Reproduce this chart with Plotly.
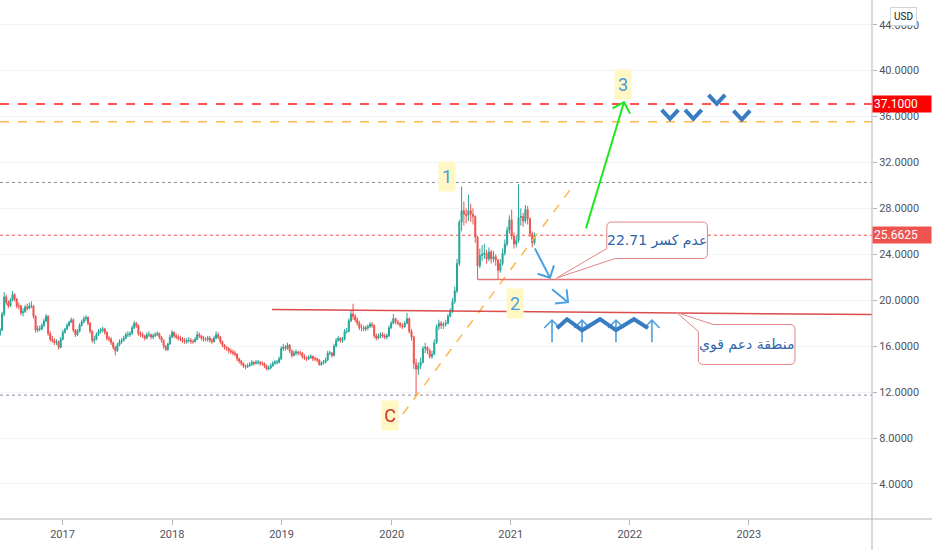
import numpy as np
import pandas as pd
import plotly.graph_objects as go

# weekly XAGUSD candles (open = previous close)
start_date = "2016-06-06"
first_open = 17.0
closes = [
    17.4, 18.8, 20.3, 19.8, 19.5, 20.0, 20.5, 20.1, 19.5, 19.5,
    18.9, 19.0, 19.4, 19.3, 19.5, 19.5, 18.6, 17.4, 17.5, 17.5,
    17.8, 18.2, 18.6, 17.1, 16.6, 16.5, 16.3, 16.4, 15.9, 16.6,
    17.2, 17.5, 17.8, 18.1, 18.3, 17.4, 17.0, 17.3, 17.8, 18.1,
    18.4, 18.5, 18.0, 17.3, 16.5, 16.6, 17.0, 17.3, 17.4, 17.5,
    17.2, 16.7, 16.6, 16.3, 15.9, 15.6, 16.1, 16.4, 16.5, 16.7,
    17.0, 17.0, 17.1, 17.6, 18.0, 17.8, 17.1, 17.0, 16.9, 16.7,
    17.0, 17.0, 16.8, 16.9, 17.0, 17.1, 16.8, 16.5, 16.0, 15.7,
    16.2, 16.8, 17.2, 16.9, 16.8, 16.7, 16.6, 16.5, 16.4, 16.5,
    16.5, 16.4, 16.4, 16.6, 17.0, 16.9, 16.7, 16.6, 16.6, 16.7,
    16.5, 16.4, 16.7, 17.0, 16.8, 16.4, 16.1, 15.9, 15.8, 15.6,
    15.5, 15.4, 15.3, 14.9, 14.7, 14.5, 14.3, 14.2, 14.3, 14.4,
    14.6, 14.5, 14.6, 14.6, 14.5, 14.5, 14.3, 14.0, 14.1, 14.3,
    14.5, 14.6, 14.6, 14.9, 15.8, 15.9, 15.8, 16.1, 15.6, 15.2,
    15.4, 15.5, 15.4, 15.4, 15.1, 15.0, 14.9, 15.0, 15.1, 14.9,
    14.9, 14.8, 14.4, 14.5, 14.6, 14.8, 15.4, 15.4, 15.2, 16.0,
    16.5, 16.7, 16.5, 16.6, 17.3, 17.3, 18.2, 18.8, 18.6, 18.3,
    18.0, 17.6, 17.6, 17.5, 17.6, 17.7, 17.9, 17.8, 16.9, 16.7,
    16.9, 17.0, 16.9, 16.8, 16.9, 17.6, 18.0, 18.4, 18.1, 18.0,
    17.8, 17.7, 18.0, 18.4, 17.3, 16.8, 14.5, 14.0, 14.3, 14.6,
    15.8, 15.9, 15.6, 15.1, 15.3, 16.3, 17.7, 18.0, 17.8, 17.9,
    18.0, 18.6, 19.0, 19.9, 20.8, 23.2, 26.8, 27.8, 27.5, 27.4,
    27.8, 27.5, 27.3, 25.5, 23.0, 23.9, 24.0, 24.1, 23.6, 24.2,
    23.6, 23.8, 23.5, 22.6, 23.2, 24.1, 24.9, 26.1, 27.0, 25.6,
    24.9, 25.2, 27.2, 27.3, 26.9, 27.9, 27.1, 25.8, 25.0, 25.6625,
]
highs = [
    17.6, 19.0, 20.7, 20.5, 20.0, 20.2, 20.8, 20.6, 20.2, 19.8,
    19.6, 19.3, 19.6, 19.7, 19.8, 19.9, 19.6, 18.7, 17.8, 17.8,
    18.0, 18.4, 18.8, 18.7, 17.3, 16.9, 16.7, 16.6, 16.5, 16.8,
    17.4, 17.6, 18.0, 18.2, 18.5, 18.4, 17.5, 17.5, 18.0, 18.3,
    18.6, 18.7, 18.6, 18.1, 17.4, 16.9, 17.2, 17.5, 17.6, 17.7,
    17.6, 17.3, 16.9, 16.8, 16.4, 16.0, 16.3, 16.6, 16.7, 16.9,
    17.2, 17.3, 17.3, 17.8, 18.2, 18.1, 17.9, 17.3, 17.2, 17.0,
    17.2, 17.3, 17.1, 17.1, 17.2, 17.3, 17.2, 16.9, 16.6, 16.1,
    16.3, 17.0, 17.4, 17.3, 17.1, 17.0, 16.9, 16.8, 16.7, 16.7,
    16.8, 16.7, 16.6, 16.8, 17.3, 17.2, 17.0, 16.9, 16.8, 16.9,
    16.9, 16.7, 16.9, 17.3, 17.2, 16.9, 16.5, 16.2, 16.0, 15.9,
    15.8, 15.7, 15.6, 15.4, 15.0, 14.8, 14.6, 14.4, 14.5, 14.6,
    14.8, 14.7, 14.8, 14.8, 14.7, 14.7, 14.6, 14.4, 14.3, 14.5,
    14.7, 14.8, 14.8, 15.1, 16.0, 16.2, 16.1, 16.3, 16.2, 15.7,
    15.6, 15.7, 15.6, 15.6, 15.5, 15.3, 15.1, 15.2, 15.3, 15.2,
    15.1, 15.0, 14.9, 14.7, 14.8, 15.0, 15.6, 15.6, 15.5, 16.2,
    16.7, 16.9, 16.8, 16.8, 17.5, 17.6, 18.4, 19.1, 19.7, 18.8,
    18.5, 18.2, 17.9, 17.8, 17.8, 17.9, 18.1, 18.1, 17.9, 17.1,
    17.1, 17.2, 17.2, 17.1, 17.1, 17.8, 18.2, 18.8, 18.5, 18.3,
    18.1, 18.0, 18.2, 18.9, 18.5, 17.5, 16.9, 14.9, 14.6, 15.0,
    16.0, 16.3, 16.0, 15.8, 15.6, 16.6, 17.9, 18.3, 18.2, 18.1,
    18.3, 18.8, 19.3, 20.2, 21.2, 23.6, 27.0, 29.9, 28.6, 28.0,
    29.2, 28.4, 28.0, 27.4, 25.6, 24.5, 24.8, 24.9, 24.4, 24.6,
    24.4, 24.3, 24.0, 23.6, 23.6, 24.5, 25.3, 26.4, 27.4, 27.9,
    25.9, 25.6, 30.1, 28.0, 27.6, 28.3, 28.2, 27.2, 26.0, 25.9,
]
lows = [
    16.9, 17.3, 18.6, 19.6, 19.3, 19.4, 19.9, 19.9, 19.3, 19.2,
    18.7, 18.6, 18.9, 19.1, 19.2, 19.3, 18.4, 17.2, 17.2, 17.3,
    17.4, 17.7, 18.1, 16.9, 16.4, 16.3, 16.1, 16.1, 15.7, 15.8,
    16.5, 17.1, 17.4, 17.7, 18.0, 17.2, 16.8, 16.9, 17.2, 17.7,
    18.0, 18.2, 17.8, 17.1, 16.3, 16.2, 16.5, 16.9, 17.1, 17.2,
    17.0, 16.5, 16.4, 16.1, 15.7, 15.2, 15.5, 16.0, 16.2, 16.4,
    16.6, 16.8, 16.8, 17.0, 17.5, 17.6, 16.9, 16.8, 16.7, 16.5,
    16.6, 16.8, 16.6, 16.6, 16.8, 16.9, 16.6, 16.3, 15.8, 15.6,
    15.6, 16.1, 16.7, 16.7, 16.6, 16.5, 16.4, 16.3, 16.2, 16.2,
    16.3, 16.2, 16.2, 16.3, 16.5, 16.7, 16.5, 16.4, 16.4, 16.4,
    16.3, 16.2, 16.3, 16.6, 16.6, 16.2, 15.9, 15.7, 15.6, 15.4,
    15.3, 15.2, 15.1, 14.7, 14.5, 14.3, 14.1, 14.0, 14.1, 14.2,
    14.3, 14.3, 14.4, 14.4, 14.3, 14.3, 14.1, 13.9, 13.9, 14.0,
    14.2, 14.4, 14.4, 14.5, 14.8, 15.6, 15.6, 15.7, 15.4, 15.0,
    15.1, 15.2, 15.2, 15.2, 14.9, 14.8, 14.7, 14.8, 14.9, 14.7,
    14.7, 14.6, 14.3, 14.3, 14.4, 14.5, 14.7, 15.2, 15.0, 15.1,
    15.9, 16.4, 16.3, 16.3, 16.5, 17.1, 17.2, 18.1, 18.3, 18.1,
    17.8, 17.4, 17.3, 17.3, 17.3, 17.4, 17.6, 17.6, 16.7, 16.5,
    16.6, 16.7, 16.7, 16.6, 16.6, 16.8, 17.5, 17.9, 17.9, 17.8,
    17.6, 17.5, 17.6, 17.9, 17.1, 16.5, 14.0, 11.7, 13.5, 14.0,
    14.5, 15.4, 15.3, 14.9, 14.9, 15.2, 16.2, 17.4, 17.5, 17.5,
    17.7, 17.9, 18.5, 18.9, 19.7, 20.6, 23.0, 26.0, 26.5, 26.7,
    26.9, 26.8, 26.6, 25.0, 21.8, 22.8, 23.4, 23.6, 23.2, 23.4,
    23.2, 23.3, 23.0, 21.8, 22.4, 23.0, 23.9, 24.7, 25.8, 25.3,
    24.5, 24.6, 25.0, 26.5, 26.4, 26.7, 26.6, 25.5, 24.6, 24.8,
]

# horizontal levels
level_target = 37.10
level_orange = 35.55
level_top = 30.26
level_last = 25.6625
level_bottom = 11.74

# drawings, in (decimal year, price)
support_ray = (2020.725, 21.8)
support_zone = [(2018.913, 19.2), (2024.04, 18.75)]
trend_line = [(2020.003, 8.84), (2021.498, 29.6)]
wave_labels = [("1", 2020.465, 30.78, "#4a9be0"), ("2", 2021.034, 19.71, "#4a9be0"),
               ("3", 2021.947, 38.78, "#4a9be0"), ("C", 2019.985, 9.97, "#d32f2f")]
green_arrow = [(2021.632, 26.26), (2021.951, 37.25)]
down_arrows = [[(2021.203, 24.52), (2021.330, 21.96)],
               [(2021.347, 20.96), (2021.481, 19.83)]]
up_arrow_years = [2021.347, 2021.599, 2021.884, 2022.186]
up_arrow_prices = (16.35, 18.26)
zigzag_years = [2021.389, 2021.473, 2021.599, 2021.750, 2021.884, 2022.035, 2022.153]
zigzag_prices = [17.57, 18.35, 17.39, 18.35, 17.39, 18.35, 17.57]
chevrons = [(2022.338, 35.80), (2022.534, 35.80), (2022.731, 37.10), (2022.941, 35.74)]
callouts = [
    dict(text="22.71 عدم كسر", x=(2021.807, 2022.652), y=(23.63, 26.81),
         tip=(2021.386, 21.94), corner="bl", off=(10, 8)),
    dict(text="منطقة دعم قوي", x=(2022.576, 2023.388), y=(14.41, 17.89),
         tip=(2022.394, 18.93), corner="tl", off=(7, 15)),
]

# axis scale: year boundaries on the bar-based time scale
year_ticks = [2016, 2017, 2018, 2019, 2020, 2021, 2022, 2023, 2024, 2025]
year_pos = [-47.0, 62.5, 172.0, 281.5, 391.7, 510.7, 629.8, 748.8, 867.8, 986.8]
X_RANGE = [0, 872]
Y_RANGE = [0.95, 46.15]
PLOT_H = 550 - 31
PX_PER_Y = PLOT_H / (Y_RANGE[1] - Y_RANGE[0])

UP, DOWN = "#26a69a", "#ef5350"
BLUE, DARK_BLUE = "#4c9fe0", "#3a7cc2"


def xpos(t):
    return np.interp(t, year_ticks, year_pos)


def dec_year(d):
    d = pd.DatetimeIndex(d)
    return d.year + (d.dayofyear - 1) / np.where(d.is_leap_year, 366, 365)


def arrow_xy(p0, p1, head=13, ang=45):
    x0, y0 = xpos(p0[0]), p0[1]
    x1, y1 = xpos(p1[0]), p1[1]
    # direction in screen pixels (y up)
    dx, dy = x1 - x0, (y1 - y0) * PX_PER_Y
    n = np.hypot(dx, dy)
    bx, by = -dx / n, -dy / n
    wings = []
    for s in (1, -1):
        a = np.radians(ang) * s
        wx = bx * np.cos(a) - by * np.sin(a)
        wy = bx * np.sin(a) + by * np.cos(a)
        wings.append((x1 + head * wx, y1 + head * wy / PX_PER_Y))
    xs = [wings[0][0], x1, wings[1][0], None, x0, x1]
    ys = [wings[0][1], y1, wings[1][1], None, y0, y1]
    return xs, ys


def line_trace(xs, ys, color, width, dash="solid"):
    return go.Scatter(x=xs, y=ys, mode="lines", hoverinfo="skip",
                      line=dict(color=color, width=width, dash=dash))


def callout_path(c, r=5):
    x0, x1 = xpos(c["x"][0]), xpos(c["x"][1])
    yb, yt = c["y"]
    tx, ty = xpos(c["tip"][0]), c["tip"][1]
    ry = r / PX_PER_Y
    ev, eh = c["off"][0] / PX_PER_Y, c["off"][1]
    if c["corner"] == "bl":
        return (f"M {x0 + r},{yt} L {x1 - r},{yt} Q {x1},{yt} {x1},{yt - ry} "
                f"L {x1},{yb + ry} Q {x1},{yb} {x1 - r},{yb} L {x0 + eh},{yb} "
                f"L {tx},{ty} L {x0},{yb + ev} L {x0},{yt - ry} Q {x0},{yt} {x0 + r},{yt} Z")
    return (f"M {x0 + eh},{yt} L {x1 - r},{yt} Q {x1},{yt} {x1},{yt - ry} "
            f"L {x1},{yb + ry} Q {x1},{yb} {x1 - r},{yb} L {x0 + r},{yb} "
            f"Q {x0},{yb} {x0},{yb + ry} L {x0},{yt - ev} L {tx},{ty} Z")


dates = pd.date_range(start_date, periods=len(closes), freq="7D")
cx = xpos(dec_year(dates))
opens = [first_open] + closes[:-1]

fig = go.Figure()
fig.add_trace(go.Candlestick(
    x=cx, open=opens, high=highs, low=lows, close=closes,
    increasing=dict(line=dict(color=UP, width=1), fillcolor=UP),
    decreasing=dict(line=dict(color=DOWN, width=1), fillcolor=DOWN),
    whiskerwidth=0, hoverinfo="skip",
))

# trend line from C
fig.add_trace(line_trace([xpos(p[0]) for p in trend_line], [p[1] for p in trend_line],
                         "#ffb74d", 1.5, "dash"))

# arrows
xs, ys = arrow_xy(*green_arrow)
fig.add_trace(line_trace(xs, ys, "#1ee81e", 2))
for a in down_arrows:
    xs, ys = arrow_xy(*a, head=13)
    fig.add_trace(line_trace(xs, ys, BLUE, 2))
for yr in up_arrow_years:
    xs, ys = arrow_xy((yr, up_arrow_prices[0]), (yr, up_arrow_prices[1]), head=11)
    fig.add_trace(line_trace(xs, ys, BLUE, 1.6))
fig.add_trace(line_trace(list(xpos(zigzag_years)), zigzag_prices, DARK_BLUE, 4))
for yr, p in chevrons:
    xc = xpos(yr)
    fig.add_trace(line_trace([xc - 8.3, xc, xc + 8.3],
                             [p + 9 / PX_PER_Y, p, p + 9 / PX_PER_Y], DARK_BLUE, 4))

shapes = []
for lvl, col, dash, w in [(level_target, "#ff1a1a", "dash", 1.5),
                          (level_orange, "#ffb74d", "dash", 1.5),
                          (level_top, "#8a8d96", "dot", 1),
                          (level_last, "#ef5350", "dot", 1),
                          (level_bottom, "#8a8d96", "dot", 1)]:
    shapes.append(dict(type="line", xref="paper", yref="y", x0=0, x1=1, y0=lvl, y1=lvl,
                       line=dict(color=col, width=w, dash=dash), layer="below"))
shapes.append(dict(type="line", xref="x", yref="y", x0=xpos(support_ray[0]), x1=X_RANGE[1],
                   y0=support_ray[1], y1=support_ray[1],
                   line=dict(color="#e57373", width=1.5)))
shapes.append(dict(type="line", xref="x", yref="y",
                   x0=xpos(support_zone[0][0]), y0=support_zone[0][1],
                   x1=xpos(support_zone[1][0]), y1=support_zone[1][1],
                   line=dict(color="rgba(211,47,47,0.85)", width=1.5)))
for c in callouts:
    shapes.append(dict(type="path", xref="x", yref="y", path=callout_path(c),
                       fillcolor="white", line=dict(color="#e08585", width=1)))
# axis lines running on into the price scale
shapes.append(dict(type="line", xref="paper", yref="paper", x0=0, x1=1.07, y0=0, y1=0,
                   line=dict(color="#b2b5be", width=1)))
shapes.append(dict(type="line", xref="paper", yref="paper", x0=1, x1=1, y0=-0.07, y1=1,
                   line=dict(color="#b2b5be", width=1)))

annotations = []
for c in callouts:
    annotations.append(dict(x=xpos(sum(c["x"]) / 2), y=sum(c["y"]) / 2, xref="x", yref="y",
                            text=c["text"], showarrow=False,
                            font=dict(size=14, color="#2e64a8", family="DejaVu Sans")))
for txt, yr, p, col in wave_labels:
    annotations.append(dict(x=xpos(yr), y=p, xref="x", yref="y", text=txt, showarrow=False,
                            bgcolor="#fff8c5", width=14, height=27, borderpad=1,
                            font=dict(size=18, color=col, family="Roboto")))
for lvl, col, label in [(level_target, "#ff0000", "37.1000"), (level_last, "#ef5350", "25.6625")]:
    annotations.append(dict(x=1, y=lvl, xref="paper", yref="y", xanchor="left", text=label,
                            showarrow=False, bgcolor=col, width=56, height=14, borderpad=1,
                            align="left", font=dict(size=12, color="white", family="Roboto")))
annotations.append(dict(x=1.0356, y=0.969, xref="paper", yref="paper", text="USD",
                        xanchor="center", yanchor="middle",
                        showarrow=False, bgcolor="white", bordercolor="#d1d4dc",
                        borderwidth=1, borderpad=3,
                        font=dict(size=10, color="#131722", family="Roboto")))

fig.update_layout(
    width=932, height=550,
    margin=dict(l=0, r=60, t=0, b=31),
    paper_bgcolor="white", plot_bgcolor="white",
    showlegend=False,
    font=dict(family="Roboto", size=11, color="#50535e"),
    shapes=shapes, annotations=annotations,
    xaxis=dict(range=X_RANGE, tickvals=list(xpos(year_ticks[1:8])),
               ticktext=[str(y) for y in year_ticks[1:8]],
               showgrid=False, zeroline=False, showline=False,
               ticks="outside", ticklen=5, tickcolor="#b2b5be",
               rangeslider=dict(visible=False), fixedrange=True),
    yaxis=dict(range=Y_RANGE, side="right", tickvals=list(range(4, 45, 4)),
               tickformat=".4f", showgrid=True, gridcolor="#f0f3fa", zeroline=False,
               showline=False, ticks="outside", ticklen=4, tickcolor="#b2b5be",
               fixedrange=True),
)

fig.write_html("out.html", config={"displayModeBar": False},
               post_script="document.body.style.margin='0px';")
